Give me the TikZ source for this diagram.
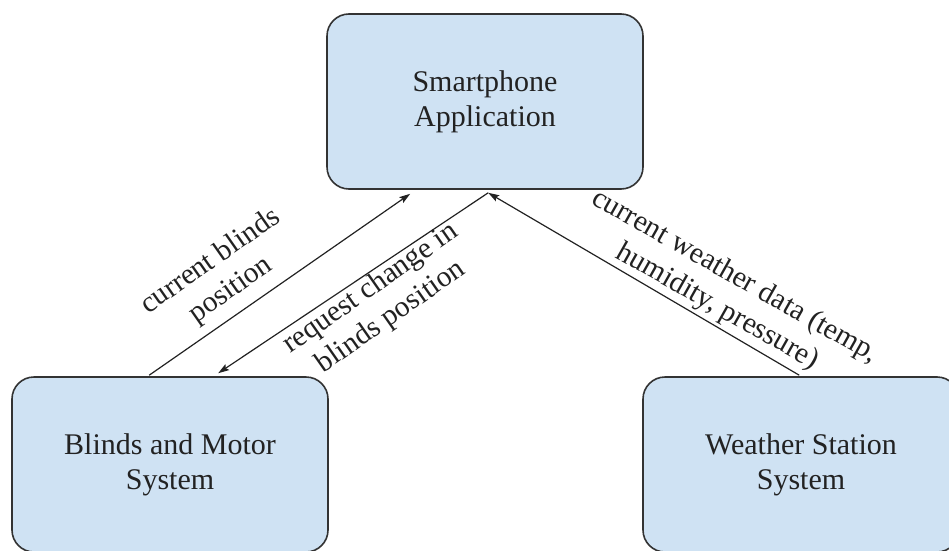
\documentclass[tikz,border=0pt]{standalone}
\usepackage{fontspec}
\setmainfont{Liberation Serif}
\usetikzlibrary{arrows.meta,calc}
\definecolor{boxfill}{HTML}{CFE2F3}
\definecolor{boxline}{HTML}{333333}
\definecolor{inkc}{HTML}{222222}
\begin{document}
\begin{tikzpicture}[x=1pt,y=1pt,
  sysbox/.style={draw=boxline, line width=1.6pt, fill=boxfill, rounded corners=22pt,
    minimum width=316pt, minimum height=175pt, inner sep=0pt, align=center,
    font=\fontsize{30}{35}\selectfont, text=inkc},
  flow/.style={draw=inkc, line width=1.2pt, -{Stealth[length=11pt,width=7pt,inset=2pt]}},
  flowlabel/.style={align=center, font=\fontsize{29.5}{35}\selectfont, text=inkc, inner sep=0pt}]
  \useasboundingbox (0,0) rectangle (949,550);
  \clip (0,0) rectangle (949,550);

  % the three subsystems
  \node[sysbox] (phone) at (485,448.5) {Smartphone\\Application};
  \node[sysbox] (blinds) at (170,85.5) {Blinds and Motor\\System};
  \node[sysbox] (weather) at (801,85.5) {Weather Station\\System};

  % connector end points on the box edges
  \coordinate (hub) at ($(phone.south west)+(162,-3)$);
  \coordinate (cbTip) at ($(phone.south west)+(84,-4)$);
  \coordinate (cbTail) at ($(blinds.north west)+(138,1)$);
  \coordinate (rqTip) at ($(blinds.north west)+(207,3)$);
  \coordinate (wsTail) at ($(weather.north west)+(157,1)$);

  % data flows
  \draw[flow] (cbTail) -- (cbTip);
  \draw[flow] (hub) -- (rqTip);
  \draw[flow] (wsTail) -- (hub);

  % flow labels, set along the connectors
  \node[flowlabel, rotate=35] (cbLabel) at (221,274) {current blinds\\position};
  \node[flowlabel, rotate=35] (rqLabel) at (381,247) {request change in\\blinds position};
  \node[flowlabel, rotate=-29.5] (wsLabel) at (726,258) {current weather data (temp,\\humidity, pressure)};
\end{tikzpicture}
\end{document}
